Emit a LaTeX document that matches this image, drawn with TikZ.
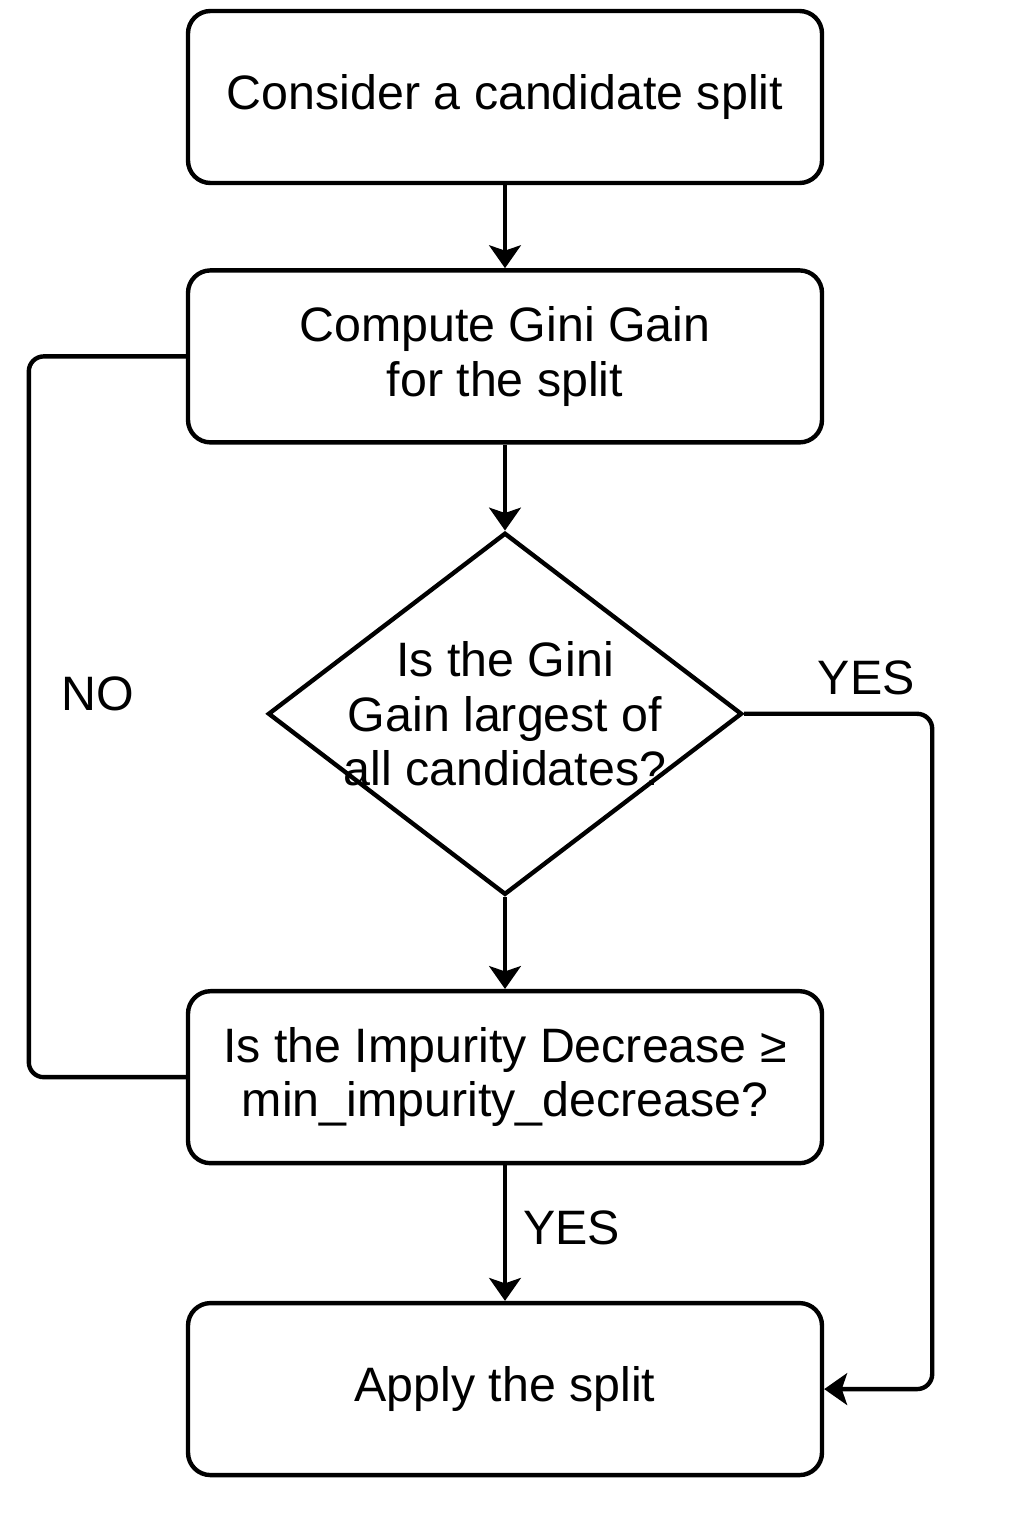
\documentclass[tikz,border=0pt]{standalone}
\usepackage{fontspec}
\setmainfont{Liberation Sans}
\usetikzlibrary{shapes.geometric,positioning,arrows.meta}

\begin{document}
\begin{tikzpicture}[line width=2.5pt,
        every node/.append style={font=\fontsize{27.5}{31}\selectfont},
        >={Stealth[length=13pt,width=18pt,inset=3pt]}]
      \tikzstyle{block} = [rectangle, draw, rounded corners=0.45cm, minimum width=12.68cm, minimum height=3.44cm, align=center]
      \tikzstyle{decision} = [diamond, draw, minimum width=9.48cm, minimum height=7.24cm, inner sep=0pt]
      \tikzstyle{word} = [align=center]
      \useasboundingbox[fill=white] (0,0) rectangle (20.48,-30.72);
      \node (consider) [block] at (10.1,-1.94) {Consider a candidate split};
      \node (compute) [block, below=1.66cm of consider] {Compute Gini Gain\\for the split};
      \node (largest) [decision, below=1.72cm of compute] {};
      \node (question) [word] at (largest) {Is the Gini\\Gain largest of\\all candidates?};
      \node (impurity) [block, below=1.84cm of largest] {Is the Impurity Decrease ≥\\min\_impurity\_decrease?};
      \node (apply) [block, below=2.71cm of impurity] {Apply the split};
      \draw[->] (consider) -- (compute);
      \draw[->] (compute) -- (largest);
      \draw[->] (largest) -- (impurity);
      \draw[->] (impurity) -- node[right=0.2cm, yshift=0.1cm] {YES} (apply);
      % loop back when the decrease is too small
      \draw[rounded corners=0.3cm] (impurity.west) -- ++(-3.14,0)
        |- node[pos=0.25, right=0.49cm, yshift=0.45cm] {NO} (compute.west);
      \draw[->, rounded corners=0.3cm] (largest.east)
        -- node[above, xshift=0.56cm, yshift=0.22cm] {YES} ++(3.76,0) |- (apply.east);
    \end{tikzpicture}
\end{document}
